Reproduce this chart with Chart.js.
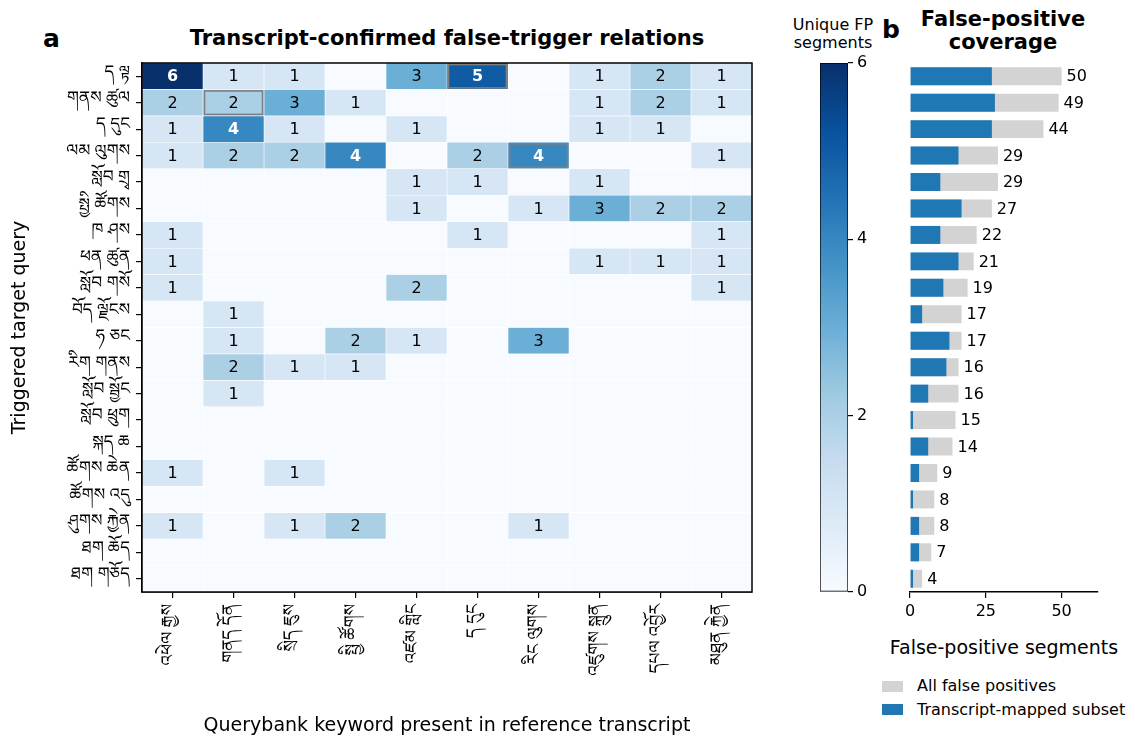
<!DOCTYPE html>
<html lang="en">
<head>
<meta charset="UTF-8">
<title>Transcript-confirmed false-trigger relations</title>
<script src="https://cdn.jsdelivr.net/npm/chart.js@4"></script>
<style>
  body { margin: 0; background: #fff; font-family: 'DejaVu Sans', sans-serif; }
  #wrap { position: relative; width: 1135px; height: 747px; overflow: hidden; }
  canvas { position: absolute; }
  .lbl { position: absolute; color: #000; white-space: nowrap; }
  .key { position: absolute; width: 21px; height: 11px; }
</style>
</head>
<body>
<div id="wrap">
  <div class="lbl" style="left:43px; top:24px; font-size:25px; line-height:30px; font-weight:bold;">a</div>
  <div class="lbl" style="left:142px; top:26px; width:610px; text-align:center; font-size:21px; line-height:24px; font-weight:bold;">Transcript-confirmed false-trigger relations</div>
  <div class="lbl" style="left:772px; top:16px; width:122px; text-align:center; font-size:16px; line-height:18px;">Unique FP<br>segments</div>
  <div class="lbl" style="left:882px; top:15px; font-size:25px; line-height:30px; font-weight:bold;">b</div>
  <div class="lbl" style="left:903px; top:8px; width:200px; text-align:center; font-size:21px; line-height:23px; font-weight:bold;">False-positive<br>coverage</div>
  <div class="lbl" style="left:884px; top:636px; width:240px; text-align:center; font-size:19px; line-height:22px;">False-positive segments</div>

  <canvas id="heat" width="770" height="747" style="left:0; top:0;"></canvas>
  <canvas id="cbar" width="110" height="620" style="left:780px; top:0;"></canvas>
  <canvas id="cover" width="265" height="625" style="left:870px; top:0;"></canvas>

  <div class="key" style="left:882px; top:681px; background:#d3d3d3;"></div>
  <div class="lbl" style="left:917px; top:676px; font-size:16px; line-height:20px;">All false positives</div>
  <div class="key" style="left:882px; top:704px; background:#1f77b4;"></div>
  <div class="lbl" style="left:917px; top:700px; font-size:16px; line-height:20px;">Transcript-mapped subset</div>
</div>

<script>
// target queries (rows) and querybank keywords (columns)
const targetQueries = ['ད ལྟ', 'གནས ཚུལ', 'ད དུང', 'ལམ ལུགས', 'སློབ གྲྭ', 'སྤྱི ཚོགས', 'ཁ ཤས', 'ཕན ཚུན', 'སློབ གསོ', 'བོད ལྗོངས',
                       'ཧ ཅང', 'རིག གནས', 'སློབ སྦྱོང', 'སློབ ཕྲུག', 'སྐད ཆ', 'ཚོགས ཆེན', 'ཚོགས འདུ', 'ཤུགས རྐྱེན', 'ཐག ཆོད', 'ཐག གཅོད'];
const keywords = ['འཕེལ རྒྱས', 'གནད དོན', 'སྲིད ཇུས', 'སྤྱི ཚོགས', 'འཛམ གླིང', 'ད དུང', 'རིང ལུགས', 'འཛུགས སྐྲུན', 'དཔལ འབྱོར', 'མཐུན རྐྱེན'];

// unique FP segments per (target query, keyword)
const fpMatrix = [
  [6, 1, 1, 0, 3, 5, 0, 1, 2, 1],
  [2, 2, 3, 1, 0, 0, 0, 1, 2, 1],
  [1, 4, 1, 0, 1, 0, 0, 1, 1, 0],
  [1, 2, 2, 4, 0, 2, 4, 0, 0, 1],
  [0, 0, 0, 0, 1, 1, 0, 1, 0, 0],
  [0, 0, 0, 0, 1, 0, 1, 3, 2, 2],
  [1, 0, 0, 0, 0, 1, 0, 0, 0, 1],
  [1, 0, 0, 0, 0, 0, 0, 1, 1, 1],
  [1, 0, 0, 0, 2, 0, 0, 0, 0, 1],
  [0, 1, 0, 0, 0, 0, 0, 0, 0, 0],
  [0, 1, 0, 2, 1, 0, 3, 0, 0, 0],
  [0, 2, 1, 1, 0, 0, 0, 0, 0, 0],
  [0, 1, 0, 0, 0, 0, 0, 0, 0, 0],
  [0, 0, 0, 0, 0, 0, 0, 0, 0, 0],
  [0, 0, 0, 0, 0, 0, 0, 0, 0, 0],
  [1, 0, 1, 0, 0, 0, 0, 0, 0, 0],
  [0, 0, 0, 0, 0, 0, 0, 0, 0, 0],
  [1, 0, 1, 2, 0, 0, 1, 0, 0, 0],
  [0, 0, 0, 0, 0, 0, 0, 0, 0, 0],
  [0, 0, 0, 0, 0, 0, 0, 0, 0, 0]
];
// [row, col] pairs outlined in the heatmap
const boxedCells = [[0, 5], [1, 1], [3, 6]];

// panel b
const allFalsePositives = [50, 49, 44, 29, 29, 27, 22, 21, 19, 17, 17, 16, 16, 15, 14, 9, 8, 8, 7, 4];
const transcriptMapped  = [27, 28, 27, 16, 10, 17, 10, 16, 11, 4, 13, 12, 6, 1, 6, 3, 1, 3, 3, 1];

const colorbarTicks = [0, 2, 4, 6];
const coverageTicks = [0, 25, 50];
const vmax = 6;

const BASE_FONT = "'DejaVu Sans', sans-serif";
const TIB_FONT = "'Noto Sans Tibetan', 'Noto Serif Tibetan', Jomolhari, 'Tibetan Machine Uni', 'DejaVu Sans', sans-serif";

// matplotlib "Blues"
const bluesStops = ['#f7fbff', '#deebf7', '#c6dbef', '#9ecae1', '#6baed6', '#4292c6', '#2171b5', '#08519c', '#08306b'];
function hexRgb(h) { return [1, 3, 5].map(i => parseInt(h.substr(i, 2), 16)); }
function blues(t) {
  t = Math.max(0, Math.min(1, t));
  const p = t * (bluesStops.length - 1);
  const i = Math.min(bluesStops.length - 2, Math.floor(p));
  const f = p - i;
  const a = hexRgb(bluesStops[i]), b = hexRgb(bluesStops[i + 1]);
  const c = a.map((v, k) => Math.round(v + (b[k] - v) * f));
  return `rgb(${c[0]},${c[1]},${c[2]})`;
}

// force scale size, drop label overflow padding
function pin(size) {
  return function (scale) {
    if (scale.isHorizontal()) scale.height = size; else scale.width = size;
    scale.paddingTop = 0; scale.paddingBottom = 0;
    scale.paddingLeft = 0; scale.paddingRight = 0;
  };
}

// ---------- heatmap (panel a) ----------
const heatDatasets = keywords.map((kw, c) => ({
  label: kw,
  data: targetQueries.map(() => [c - 0.5, c + 0.5]),
  backgroundColor: targetQueries.map((q, r) => blues(fpMatrix[r][c] / vmax)),
  borderColor: '#ffffff',
  borderWidth: 0.6,
  borderSkipped: false,
  grouped: false,
  barPercentage: 1,
  categoryPercentage: 1
}));

const cellTextPlugin = {
  id: 'cellText',
  afterDatasetsDraw(chart) {
    const {ctx, chartArea, scales: {x, y}} = chart;
    const band = chartArea.height / targetQueries.length;
    ctx.save();
    ctx.textAlign = 'center';
    ctx.textBaseline = 'middle';
    fpMatrix.forEach((row, r) => {
      row.forEach((v, c) => {
        if (!v) return;
        const strong = v > 3;
        ctx.fillStyle = strong ? '#ffffff' : '#000000';
        ctx.font = (strong ? 'bold ' : '') + '16px ' + BASE_FONT;
        ctx.fillText(String(v), x.getPixelForValue(c), y.getPixelForValue(r) + 1);
      });
    });
    // outlined pairs
    ctx.strokeStyle = '#7f7f7f';
    ctx.lineWidth = 1.6;
    boxedCells.forEach(([r, c]) => {
      const x0 = x.getPixelForValue(c - 0.5), x1 = x.getPixelForValue(c + 0.5);
      const yc = y.getPixelForValue(r);
      ctx.strokeRect(x0 + 1.5, yc - band / 2 + 1.5, x1 - x0 - 3, band - 3);
    });
    // frame
    ctx.strokeStyle = '#000';
    ctx.lineWidth = 1.5;
    ctx.strokeRect(chartArea.left, chartArea.top, chartArea.width, chartArea.height);
    ctx.restore();
  }
};

new Chart(document.getElementById('heat'), {
  type: 'bar',
  data: { labels: targetQueries, datasets: heatDatasets },
  options: {
    indexAxis: 'y',
    responsive: false,
    animation: false,
    layout: { padding: { top: 63, right: 18, left: 0, bottom: 0 } },
    plugins: { legend: { display: false }, tooltip: { enabled: false } },
    scales: {
      x: {
        type: 'linear',
        min: -0.5,
        max: keywords.length - 0.5,
        afterBuildTicks: s => { s.ticks = keywords.map((k, i) => ({ value: i })); },
        afterFit: pin(155),
        grid: { drawOnChartArea: false, drawTicks: true, tickLength: 6, color: '#000', lineWidth: 1.2 },
        border: { display: true, color: '#000', width: 1.5 },
        ticks: {
          autoSkip: false, minRotation: 90, maxRotation: 90, padding: 6,
          color: '#000', font: { family: TIB_FONT, size: 17 },
          callback: v => keywords[v]
        },
        title: {
          display: true, text: 'Querybank keyword present in reference transcript',
          color: '#000', font: { family: BASE_FONT, size: 19 }, padding: { top: 0, bottom: 10 }
        }
      },
      y: {
        type: 'category',
        afterFit: pin(142),
        grid: { drawOnChartArea: false, drawTicks: true, tickLength: 6, color: '#000', lineWidth: 1.2, offset: false },
        border: { display: true, color: '#000', width: 1.5 },
        ticks: { autoSkip: false, padding: 6, color: '#000', font: { family: TIB_FONT, size: 17 } },
        title: {
          display: true, text: 'Triggered target query',
          color: '#000', font: { family: BASE_FONT, size: 19 }, padding: { top: 9, bottom: 0 }
        }
      }
    }
  },
  plugins: [cellTextPlugin]
});

// ---------- colorbar ----------
new Chart(document.getElementById('cbar'), {
  type: 'bar',
  data: {
    labels: ['scale'],
    datasets: [{
      data: [[0, vmax]],
      backgroundColor: (context) => {
        const area = context.chart.chartArea;
        if (!area) return bluesStops[4];
        const g = context.chart.ctx.createLinearGradient(0, area.bottom, 0, area.top);
        for (let i = 0; i <= 32; i++) g.addColorStop(i / 32, blues(i / 32));
        return g;
      },
      borderColor: '#000',
      borderWidth: 1,
      borderSkipped: false,
      barPercentage: 1,
      categoryPercentage: 1
    }]
  },
  options: {
    responsive: false,
    animation: false,
    layout: { padding: { top: 63, left: 40, right: 0, bottom: 28 } },
    plugins: { legend: { display: false }, tooltip: { enabled: false } },
    scales: {
      x: { display: false },
      y: {
        position: 'right',
        min: 0, max: vmax,
        afterBuildTicks: s => { s.ticks = colorbarTicks.map(v => ({ value: v })); },
        afterFit: pin(42),
        grid: { drawOnChartArea: false, drawTicks: true, tickLength: 5, color: '#000', lineWidth: 1.2 },
        border: { display: false },
        ticks: { padding: 4, color: '#000', font: { family: BASE_FONT, size: 16 } }
      }
    }
  }
});

// ---------- coverage bars (panel b) ----------
const valueLabelPlugin = {
  id: 'valueLabels',
  afterDatasetsDraw(chart) {
    const {ctx, scales: {x, y}} = chart;
    ctx.save();
    ctx.fillStyle = '#000';
    ctx.font = '16px ' + BASE_FONT;
    ctx.textAlign = 'left';
    ctx.textBaseline = 'middle';
    allFalsePositives.forEach((v, i) => {
      ctx.fillText(String(v), x.getPixelForValue(v) + 5, y.getPixelForValue(i) + 1);
    });
    ctx.restore();
  }
};

new Chart(document.getElementById('cover'), {
  type: 'bar',
  data: {
    labels: targetQueries,
    datasets: [
      { label: 'All false positives', data: allFalsePositives, backgroundColor: '#d3d3d3', order: 1,
        grouped: false, barPercentage: 0.68, categoryPercentage: 1 },
      { label: 'Transcript-mapped subset', data: transcriptMapped, backgroundColor: '#1f77b4', order: 0,
        grouped: false, barPercentage: 0.68, categoryPercentage: 1 }
    ]
  },
  options: {
    indexAxis: 'y',
    responsive: false,
    animation: false,
    layout: { padding: { top: 63, left: 40, right: 37, bottom: 0 } },
    plugins: { legend: { display: false }, tooltip: { enabled: false } },
    scales: {
      y: { display: false },
      x: {
        min: 0, max: 62,
        afterBuildTicks: s => { s.ticks = coverageTicks.map(v => ({ value: v })); },
        afterFit: pin(33),
        grid: { drawOnChartArea: false, drawTicks: true, tickLength: 6, color: '#000', lineWidth: 1.2 },
        border: { display: true, color: '#000', width: 1.5 },
        ticks: { padding: 4, color: '#000', font: { family: BASE_FONT, size: 16 } }
      }
    }
  },
  plugins: [valueLabelPlugin]
});
</script>
</body>
</html>
